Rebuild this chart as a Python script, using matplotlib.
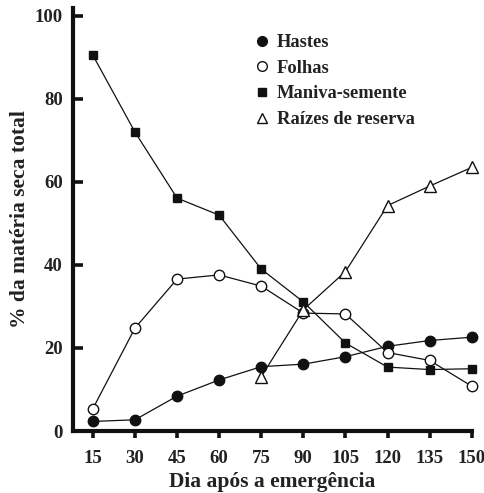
import matplotlib
matplotlib.use("Agg")
import matplotlib.pyplot as plt
from matplotlib.lines import Line2D

dias = [15, 30, 45, 60, 75, 90, 105, 120, 135, 150]
hastes = [2.3, 2.7, 8.4, 12.3, 15.5, 16.1, 17.9, 20.4, 21.8, 22.6]
folhas = [5.4, 24.8, 36.6, 37.6, 34.9, 28.4, 28.2, 18.9, 17.0, 10.8]
maniva = [90.5, 72.0, 56.1, 52.0, 39.0, 31.1, 21.2, 15.4, 14.8, 15.0]
dias_raizes = [75, 90, 105, 120, 135, 150]
raizes = [13.1, 29.2, 38.4, 54.3, 59.0, 63.5]
yticks = [0, 20, 40, 60, 80, 100]

plt.rcParams['font.family'] = ['Liberation Serif', 'DejaVu Serif']
plt.rcParams['font.weight'] = 'bold'

fig = plt.figure(figsize=(4.85, 4.93), dpi=100)
ax = fig.add_axes([72.7/485, (493-431)/493, 399/485, 423/493])

lc = '#111111'
tc = '#222222'
lw = 0.9
ax.plot(dias, hastes, '-', color=lc, lw=lw, marker='o', ms=7.5, mfc=lc, mec=lc, clip_on=False, zorder=3)
ax.plot(dias, folhas, '-', color=lc, lw=lw, marker='o', ms=7.5, mfc='white', mec=lc, mew=1.0, clip_on=False, zorder=3)
ax.plot(dias, maniva, '-', color=lc, lw=lw, marker='s', ms=6.2, mfc=lc, mec=lc, clip_on=False, zorder=3)
ax.plot(dias_raizes, raizes, '-', color=lc, lw=lw, marker='^', ms=8, mfc='white', mec=lc, mew=1.0, clip_on=False, zorder=3)

ax.set_xlim(7.8, 150)
ax.set_ylim(0, 101.9)
ax.set_xticks(dias)
ax.set_xticklabels([str(d) for d in dias])
ax.set_yticks(yticks)
ax.set_yticklabels([str(t) for t in yticks])

for s in ['top', 'right']:
    ax.spines[s].set_visible(False)
for s in ['left', 'bottom']:
    ax.spines[s].set_linewidth(3.0)
    ax.spines[s].set_color(lc)
ax.spines['left'].set_capstyle('projecting')

ax.tick_params(axis='x', direction='out', length=5, width=2.6, color=lc, pad=9, labelsize=13.5, labelcolor=tc)
ax.tick_params(axis='y', direction='in', length=7, width=2.6, color=lc, pad=7, labelsize=13.5, labelcolor=tc)
for lab in ax.get_xticklabels() + ax.get_yticklabels():
    lab.set_fontweight('bold')

ax.set_xlabel('Dia após a emergência', fontsize=15.5, fontweight='bold', color=tc, labelpad=3)
ax.set_ylabel('% da matéria seca total', fontsize=15.5, fontweight='bold', color=tc, labelpad=3.5)

handles = [
    Line2D([], [], ls='none', marker='o', ms=7, mfc=lc, mec=lc),
    Line2D([], [], ls='none', marker='o', ms=7, mfc='white', mec=lc, mew=1.0),
    Line2D([], [], ls='none', marker='s', ms=5.5, mfc=lc, mec=lc),
    Line2D([], [], ls='none', marker='^', ms=7.5, mfc='white', mec=lc, mew=1.0),
]
labels = ['Hastes', 'Folhas', 'Maniva-semente', 'Raízes de reserva']
leg = fig.legend(handles, labels, loc='upper left', bbox_to_anchor=(255/485, 1 - 34/493),
                 frameon=False, handlelength=0.75, handletextpad=0.45, labelspacing=0.47,
                 borderpad=0, borderaxespad=0, prop={'family': ['Liberation Serif'], 'weight': 'bold', 'size': 13.3})
for t in leg.get_texts():
    t.set_color(tc)

fig.savefig('out.png', dpi=100)
